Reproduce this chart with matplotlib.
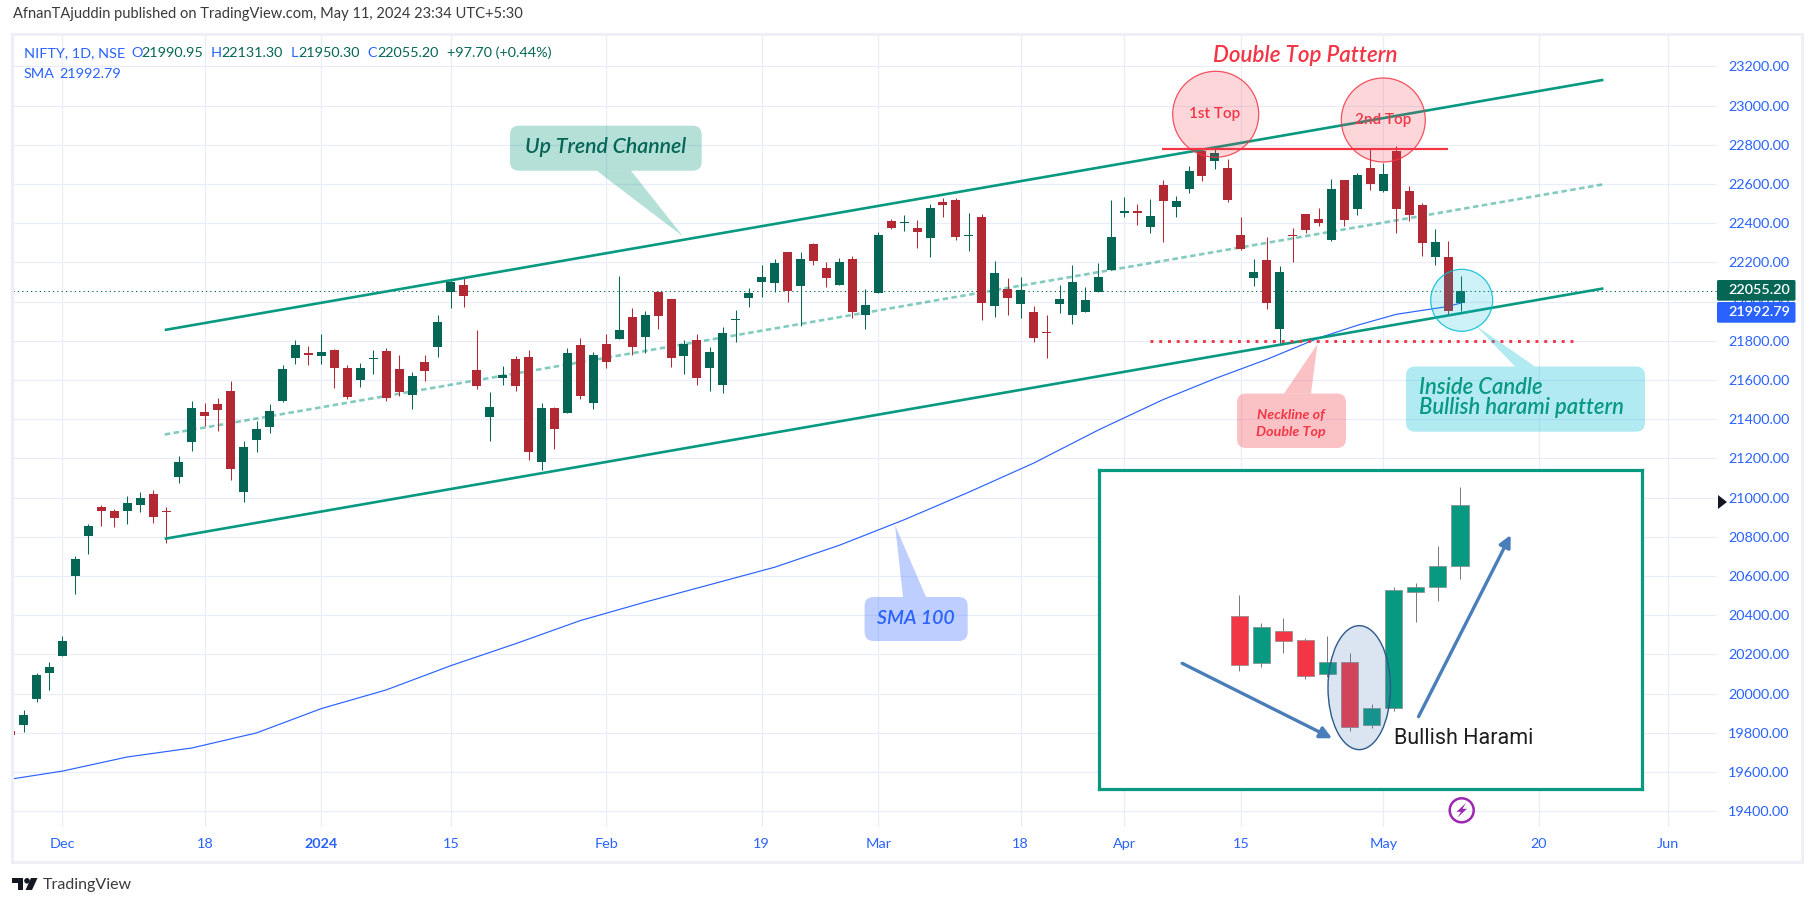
import matplotlib
matplotlib.use("Agg")
import matplotlib.pyplot as plt
from matplotlib.patches import Circle, Ellipse, FancyBboxPatch, Polygon, Rectangle

plt.rcParams['font.family'] = ['Lato', 'DejaVu Sans']

# daily candles, bar index 0 = 1 Dec 2023
first_bar = -4
opens = [19812, 19842, 19975, 20107, 20193, 20600, 20803, 20951, 20932, 20932, 20962, 21018, 20932, 21105, 21284,
         21437, 21478, 21544, 21029, 21294, 21360, 21493, 21712, 21738, 21722, 21753, 21661, 21600, 21707, 21748,
         21656, 21523, 21692, 21768, 22049, 22084, 21652, 21412, 21611, 21708, 21718, 21183, 21458, 21433, 21780,
         21484, 21785, 21810, 21922, 21820, 22050, 22014, 21723, 21805, 21662, 21575, 21907, 22019, 22101, 22096,
         22254, 22080, 22295, 22172, 22085, 22218, 21932, 22045, 22412, 22402, 22376, 22325, 22509, 22520, 22336,
         22433, 21979, 22066, 21990, 21949, 21847, 21990, 21929, 21949, 22051, 22163, 22454, 22464, 22382, 22597,
         22484, 22576, 22768, 22715, 22679, 22338, 22118, 22210, 21858, 22338, 22445, 22419, 22312, 22618, 22470,
         22679, 22562, 22766, 22562, 22491, 22225, 22225, 21990.95]
highs = [19815, 19919, 20107, 20163, 20295, 20702, 20864, 20961, 20942, 21008, 21029, 21039, 20952, 21212, 21493,
         21483, 21508, 21595, 21289, 21391, 21478, 21676, 21804, 21773, 21834, 21758, 21676, 21687, 21753, 21763,
         21727, 21641, 21727, 21931, 22113, 22127, 21856, 21540, 21672, 21723, 21754, 21484, 21463, 21764, 21815,
         21744, 21836, 22131, 21968, 21953, 22055, 22014, 21805, 21836, 21769, 21871, 21958, 22070, 22187, 22218,
         22254, 22254, 22300, 22203, 22223, 22233, 22065, 22356, 22422, 22443, 22417, 22499, 22529, 22530, 22454,
         22449, 22209, 22122, 22127, 21979, 21934, 22087, 22184, 22076, 22199, 22520, 22535, 22500, 22525, 22622,
         22540, 22690, 22780, 22778, 22725, 22429, 22215, 22327, 22179, 22373, 22445, 22475, 22623, 22620, 22654,
         22780, 22708, 22795, 22588, 22501, 22368, 22307, 22131.30]
lows = [19785, 19802, 19959, 20020, 20190, 20508, 20712, 20854, 20850, 20865, 20927, 20871, 20769, 21075, 21238,
        21365, 21340, 21090, 20978, 21233, 21330, 21490, 21681, 21676, 21681, 21559, 21503, 21564, 21630, 21493,
        21518, 21452, 21595, 21717, 21967, 21972, 21555, 21290, 21575, 21545, 21193, 21142, 21249, 21430, 21504,
        21453, 21662, 21808, 21728, 21739, 21861, 21667, 21631, 21575, 21545, 21535, 21795, 21973, 22024, 22050,
        21999, 21876, 22187, 22075, 22083, 21917, 21861, 22043, 22371, 22361, 22274, 22228, 22432, 22313, 22260,
        21908, 21923, 21934, 21918, 21796, 21714, 21944, 21888, 21947, 22049, 22161, 22433, 22393, 22352, 22306,
        22433, 22556, 22613, 22674, 22508, 22261, 22077, 21960, 21785, 22200, 22348, 22383, 22307, 22383, 22440,
        22567, 22560, 22348, 22409, 22230, 22185, 21930, 21950.30]
closes = [19791, 19893, 20097, 20137, 20269, 20686, 20854, 20931, 20896, 20973, 20998, 20901, 20927, 21182, 21457,
          21416, 21447, 21146, 21258, 21350, 21442, 21656, 21778, 21727, 21743, 21661, 21513, 21661, 21712, 21508,
          21539, 21620, 21646, 21896, 22100, 22028, 21570, 21463, 21626, 21570, 21234, 21458, 21351, 21739, 21519,
          21728, 21693, 21856, 21769, 21932, 21927, 21713, 21785, 21611, 21744, 21841, 21912, 22045, 22126, 22198,
          22055, 22218, 22208, 22121, 22203, 21947, 21983, 22340, 22376, 22407, 22356, 22478, 22494, 22331, 22342,
          21995, 22148, 22020, 22061, 21816, 21842, 22015, 22102, 22010, 22127, 22331, 22464, 22454, 22439, 22515,
          22515, 22668, 22638, 22756, 22516, 22266, 22149, 21991, 22149, 22332, 22363, 22399, 22572, 22414, 22644,
          22598, 22649, 22470, 22440, 22297, 22302, 21950, 22055.20]

# SMA 100
sma_bars = [-4, 0, 5, 10, 15, 20, 25, 30, 35, 40, 45, 50, 55, 60, 65, 70, 75, 80, 85, 89, 93, 97, 100, 103, 107, 108]
sma_vals = [19564, 19605, 19677, 19723, 19800, 19924, 20019, 20143, 20255, 20373, 20467, 20556, 20645, 20757, 20887,
            21028, 21176, 21345, 21500, 21607, 21705, 21814, 21879, 21935, 21975, 21992.79]

# drawn channel and levels
channel_bars = [7.9, 119]
channel_upper = [21855, 23131]
channel_mid = [21322, 22598]
channel_lower = [20790, 22067]
top_level = 22776
top_level_bars = [84.9, 107]
neck_level = 21797
neck_bars = [84, 116.8]
last_close = 22055.20
last_sma = 21992.79

price_ticks = list(range(19400, 23400, 200))
date_bars = [0, 11, 20, 30, 42, 54, 63, 74, 82, 91, 102, 114, 124]
date_labels = ['Dec', '18', '2024', '15', 'Feb', '19', 'Mar', '18', 'Apr', '15', 'May', '20', 'Jun']

# the pasted Bullish Harami sketch
ins_open = [531, 392, 486, 459, 359, 394, 205, 255, 605, 618, 682]
ins_high = [595, 510, 527, 466, 473, 420, 267, 620, 630, 742, 918]
ins_low = [368, 378, 422, 344, 350, 188, 197, 248, 515, 577, 644]
ins_close = [385, 498, 458, 353, 394, 198, 255, 609, 618, 682, 865]

GREEN = '#056656'
RED = '#B22833'
TEAL = '#089981'
ALERT = '#F23645'
BLUE = '#2962FF'
GRID = '#E8ECFB'
CYAN = '#00BCD4'

fig = plt.figure(figsize=(18.15, 9.06), dpi=100)
ax = fig.add_axes([13 / 1815, (906 - 827) / 906, (1717 - 13) / 1815, (827 - 36) / 906])
ax.set_xlim(-3.815, 127.77)
ax.set_ylim(19319.9, 23354.6)

# candles
bars = list(range(first_bar, first_bar + len(opens)))
for b, o, h, l, c in zip(bars, opens, highs, lows, closes):
    col = GREEN if c >= o else RED
    ax.vlines(b, l, h, color=col, lw=0.75, zorder=3)
    ax.bar(b, abs(c - o), bottom=min(o, c), width=0.695, color=col, linewidth=0, zorder=3)

ax.plot(sma_bars, sma_vals, color=BLUE, lw=0.85, zorder=2)
ax.axhline(last_close, color=GREEN, lw=0.75, linestyle=(0, (1.2, 3)), zorder=2)

ax.plot(channel_bars, channel_mid, color=TEAL, alpha=0.5, lw=1.9, linestyle=(0, (2.1, 1.3)), zorder=2)
ax.plot(channel_bars, channel_upper, color=TEAL, lw=1.9, zorder=4, solid_capstyle='butt')
ax.plot(channel_bars, channel_lower, color=TEAL, lw=1.9, zorder=4, solid_capstyle='butt')
ax.plot(top_level_bars, [top_level, top_level], color=ALERT, lw=1.6, zorder=4, solid_capstyle='butt')
ax.plot(neck_bars, [neck_level, neck_level], color=ALERT, lw=2.1, linestyle=(0, (1, 2)), zorder=4)

ax.set_yticks(price_ticks)
ax.set_yticklabels(['%.2f' % p for p in price_ticks])
ax.yaxis.tick_right()
ax.set_xticks(date_bars)
ax.set_xticklabels(date_labels)
ax.get_xticklabels()[2].set_fontweight('bold')
ax.tick_params(axis='y', length=0, pad=8, labelsize=10.4, labelcolor=BLUE)
ax.tick_params(axis='x', length=0, pad=8, labelsize=10.4, labelcolor=BLUE)
ax.grid(True, color=GRID, lw=0.8)
ax.set_axisbelow(True)
for s in ax.spines.values():
    s.set_visible(False)

# overlay in figure pixels for the drawings and the page furniture
over = fig.add_axes([0, 0, 1, 1], zorder=5)
over.set_xlim(0, 1815)
over.set_ylim(906, 0)
over.axis('off')
over.patch.set_alpha(0)

over.add_patch(Rectangle((12, 34), 1790, 828, fill=False, edgecolor='#EEEFF6', lw=2.2))


def callout(x0, y0, x1, y1, base, tip, color):
    over.add_patch(FancyBboxPatch((x0, y0), x1 - x0, y1 - y0, boxstyle='round,pad=0,rounding_size=9',
                                  facecolor=color, alpha=0.3, linewidth=0))
    over.add_patch(Polygon(base + [tip], closed=True, facecolor=color, alpha=0.3, linewidth=0))


callout(510, 125.7, 701.7, 170.7, [(596.7, 170.7), (631, 170.7)], (683.3, 236.7), TEAL)
over.text(605.5, 147, 'Up Trend Channel', color=GREEN, fontsize=15.3, style='italic', weight='semibold',
          ha='center', va='center')

callout(1406, 366.5, 1645, 431.7, [(1515, 366.5), (1535, 366.5)], (1475, 325), CYAN)
over.text(1419, 387.5, 'Inside Candle', color=TEAL, fontsize=15.8, style='italic', weight='semibold',
          ha='left', va='center')
over.text(1419, 407.5, 'Bullish harami pattern', color=TEAL, fontsize=15.8, style='italic', weight='semibold',
          ha='left', va='center')

callout(1237, 393.5, 1346, 448, [(1284, 393.5), (1311, 393.5)], (1317.5, 344), ALERT)
over.text(1291, 415, 'Neckline of', color=ALERT, fontsize=10.3, style='italic', weight='bold', ha='center', va='center')
over.text(1291, 432, 'Double Top', color=ALERT, fontsize=10.3, style='italic', weight='bold', ha='center', va='center')

callout(864.6, 597, 967.7, 641, [(903, 597), (926, 597)], (895, 525), BLUE)
over.text(916, 619, 'SMA 100', color=BLUE, fontsize=14, style='italic', weight='semibold', ha='center', va='center')

over.text(1305, 55, 'Double Top Pattern', color=ALERT, fontsize=16.1, style='italic', weight='semibold',
          ha='center', va='center')

for cx, cy, r, col in [(1215.7, 114.3, 43, ALERT), (1383.3, 120, 42, ALERT), (1461.7, 300.3, 31, CYAN)]:
    over.add_patch(Circle((cx, cy), r, facecolor=col, alpha=0.2, linewidth=0))
    over.add_patch(Circle((cx, cy), r, fill=False, edgecolor=col, lw=0.9, alpha=0.85))
over.text(1215, 114, '1st Top', color=ALERT, fontsize=11, weight='semibold', ha='center', va='center')
over.text(1383, 120, '2nd Top', color=ALERT, fontsize=11, weight='semibold', ha='center', va='center')

# header
over.text(13, 14, 'AfnanTAjuddin published on TradingView.com, May 11, 2024 23:34 UTC+5:30', color='#3A3A3A',
          fontsize=10.5, ha='left', va='center')
for x, txt, col in [(23.7, 'NIFTY, 1D, NSE', BLUE), (131, 'O', BLUE), (141, '21990.95', GREEN), (211, 'H', BLUE),
                    (221, '22131.30', GREEN), (291, 'L', BLUE), (298, '21950.30', GREEN), (367, 'C', BLUE),
                    (377, '22055.20', GREEN), (447, '+97.70 (+0.44%)', GREEN)]:
    over.text(x, 53, txt, color=col, fontsize=10.4, ha='left', va='center')
over.text(23.7, 74, 'SMA', color=BLUE, fontsize=10.4, ha='left', va='center')
over.text(59.3, 74, '21992.79', color=BLUE, fontsize=10.4, ha='left', va='center')

# price tags on the scale
over.add_patch(FancyBboxPatch((1717, 280), 78.5, 20.7, boxstyle='round,pad=0,rounding_size=1.5', facecolor=GREEN, linewidth=0))
over.add_patch(FancyBboxPatch((1717, 302), 78.5, 20.7, boxstyle='round,pad=0,rounding_size=1.5', facecolor=BLUE, linewidth=0))
over.text(1759, 290.5, '%.2f' % last_close, color='white', fontsize=10.4, weight='semibold', ha='center', va='center')
over.text(1759, 312.5, '%.2f' % last_sma, color='white', fontsize=10.4, weight='semibold', ha='center', va='center')
over.add_patch(Polygon([(1718, 495), (1727, 502), (1718, 509)], closed=True, facecolor='#131722', linewidth=0))

# lightning badge
over.add_patch(Circle((1461.7, 810.3), 12, fill=False, edgecolor='#9C27B0', lw=1.8))
bolt = [(1466, 803), (1456.5, 811.8), (1461, 811.8), (1457.5, 817.5), (1467, 808.8), (1462.5, 808.8)]
over.add_patch(Polygon(bolt, closed=True, facecolor='#9C27B0', linewidth=0))

# logo
over.add_patch(Polygon([(12.5, 878), (23.5, 878), (23.5, 890), (18, 890), (18, 883), (12.5, 883)], closed=True,
                       facecolor='#131722', linewidth=0))
over.add_patch(Circle((27, 880.8), 2.8, facecolor='#131722', linewidth=0))
over.add_patch(Polygon([(31, 878), (37.5, 878), (32, 890), (25.5, 890)], closed=True, facecolor='#131722', linewidth=0))
over.text(42.4, 884.5, 'TradingView', color='#3A3A3A', fontsize=11.5, ha='left', va='center')

# pasted sketch
ins = fig.add_axes([1098.5 / 1815, (906 - 789.3) / 906, 544 / 1815, 319.3 / 906], zorder=6)
ins.set_xlim(-6.37, 18.27)
ins.set_ylim(12, 970)
ins.set_xticks([])
ins.set_yticks([])
for s in ins.spines.values():
    s.set_color(TEAL)
    s.set_linewidth(2.3)
sketch_up = '#089981'
sketch_down = '#F23645'
for b, (o, h, l, c) in enumerate(zip(ins_open, ins_high, ins_low, ins_close)):
    col = sketch_up if c >= o else sketch_down
    ins.vlines(b, l, h, color='#777777', lw=0.7, zorder=2)
    ins.bar(b, abs(c - o), bottom=min(o, c), width=0.78, color=col, edgecolor='#888888', linewidth=0.5, zorder=3)
ins.add_patch(Ellipse((5.44, 317), 2.83, 372, facecolor='#4A7EBB', alpha=0.2, linewidth=0, zorder=4))
ins.add_patch(Ellipse((5.44, 317), 2.83, 372, fill=False, edgecolor='#2E5A8A', lw=1, zorder=4))
for start, end in [((-2.58, 390), (4.21, 165)), ((8.125, 230), (12.3, 775))]:
    ins.annotate('', xy=end, xytext=start, zorder=5,
                 arrowprops=dict(arrowstyle='-|>,head_width=0.25,head_length=0.5', color='#4A7EBB', lw=2.4,
                                 shrinkA=0, shrinkB=0, mutation_scale=14))
ins.text(7.03, 165, 'Bullish Harami', color='#1E1E1E', fontsize=15.5, family='Roboto',
         ha='left', va='center')

fig.savefig('out.png', dpi=100, facecolor='white')
